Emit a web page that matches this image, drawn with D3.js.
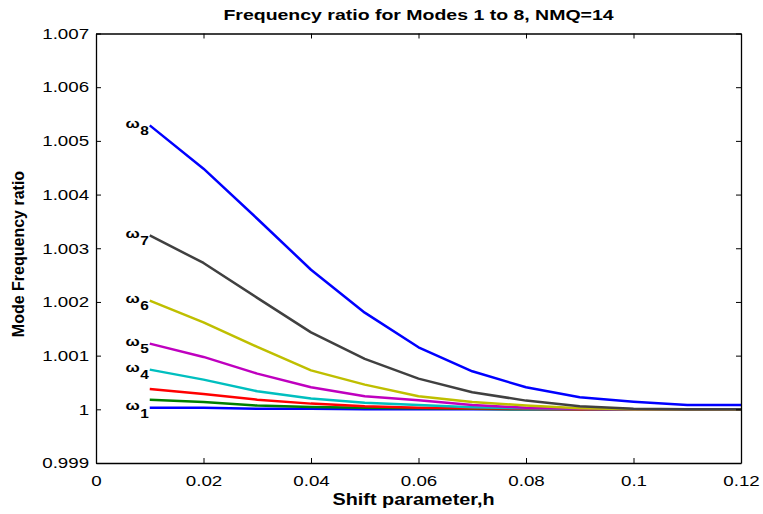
<!DOCTYPE html>
<html>
<head>
<meta charset="utf-8">
<script src="https://cdn.jsdelivr.net/npm/d3@7"></script>
<style>
  html, body { margin: 0; padding: 0; background: #fff; }
  svg { display: block; font-family: "Liberation Sans", Arial, Helvetica, sans-serif; }
</style>
</head>
<body>
<svg id="chart" width="763" height="514"></svg>
<script>
// Shift parameter values (x) and frequency ratios for modes 1..8
const shift = [0.01, 0.02, 0.03, 0.04, 0.05, 0.06, 0.07, 0.08, 0.09, 0.10, 0.11, 0.12];

const mode1 = [1.00003, 1.00003, 1.00001, 1.00001, 1.00000, 1.00000, 1.00000, 1.00000, 1.00000, 1.00000, 1.00000, 1.00000];
const mode2 = [1.00018, 1.000138, 1.000069, 1.000045, 1.00003, 1.00002, 1.00001, 1.00000, 1.00000, 1.00000, 1.00000, 1.00000];
const mode3 = [1.00038, 1.000287, 1.00018, 1.000106, 1.000056, 1.00003, 1.00002, 1.00001, 1.00000, 1.00000, 1.00000, 1.00000];
const mode4 = [1.000739, 1.000553, 1.000335, 1.0002, 1.00012, 1.00008, 1.00004, 1.00002, 1.00001, 1.00000, 1.00000, 1.00000];
const mode5 = [1.001223, 1.000976, 1.000665, 1.00041, 1.000242, 1.00017, 1.00008, 1.00003, 1.00001, 1.00000, 1.00000, 1.00000];
const mode6 = [1.002024, 1.00162, 1.001162, 1.000726, 1.00046, 1.000242, 1.000138, 1.000069, 1.00002, 1.00000, 1.00000, 1.00000];
const mode7 = [1.00324, 1.002726, 1.002075, 1.001434, 1.000939, 1.000572, 1.000317, 1.000162, 1.000056, 1.00001, 1.00000, 1.00000];
const mode8 = [1.005289, 1.004482, 1.00355, 1.0026, 1.0018, 1.001155, 1.000708, 1.00041, 1.000223, 1.000143, 1.000082, 1.000082];

const modes = [mode1, mode2, mode3, mode4, mode5, mode6, mode7, mode8];
const modeColors = ["#0000ff", "#008000", "#ff0000", "#00bfbf", "#bf00bf", "#bfbf00", "#404040", "#0000ff"];
// Modes that carry an ω label at the start of their curve
const labelledModes = [1, 4, 5, 6, 7, 8];

const xTicks = [0, 0.02, 0.04, 0.06, 0.08, 0.10, 0.12];
const yTicks = [0.999, 1.000, 1.001, 1.002, 1.003, 1.004, 1.005, 1.006, 1.007];

const titleText = "Frequency ratio for Modes 1 to 8, NMQ=14";
const xLabelText = "Shift parameter,h";
const yLabelText = "Mode Frequency ratio";

// Layout
const plotLeft = 96, plotRight = 741, plotTop = 33.5, plotBottom = 463;
const SX = 1.3;      // horizontal widening of the title and ω labels
const SX_TICK = 1.25; // horizontal widening of tick numbers
const SX_XLAB = 1.24; // horizontal widening of the x-axis label

const svg = d3.select("#chart");

const x = d3.scaleLinear().domain([0, 0.12]).range([plotLeft, plotRight]);
const y = d3.scaleLinear().domain([0.999, 1.007]).range([plotBottom, plotTop]);

// Curves
const line = d3.line().x((d, i) => x(shift[i])).y(d => y(d));
const plot = svg.append("g");
modes.forEach((vals, k) => {
  plot.append("path")
    .datum(vals)
    .attr("d", line)
    .attr("fill", "none")
    .attr("stroke", modeColors[k])
    .attr("stroke-width", 2.5)
    .attr("stroke-linejoin", "round");
});

// Axes with inward ticks on all four sides
const fmtX = d => String(+d.toFixed(2));
const fmtY = d => String(+d.toFixed(3));

const gx = svg.append("g").attr("transform", `translate(0,${plotBottom})`)
  .call(d3.axisBottom(x).tickValues(xTicks).tickSizeInner(-5).tickSizeOuter(0).tickPadding(12.5).tickFormat(fmtX));
const gy = svg.append("g").attr("transform", `translate(${plotLeft},0)`)
  .call(d3.axisLeft(y).tickValues(yTicks).tickSizeInner(-5).tickSizeOuter(0).tickPadding(5.5).tickFormat(fmtY));
const gxt = svg.append("g").attr("transform", `translate(0,${plotTop})`)
  .call(d3.axisTop(x).tickValues(xTicks).tickSizeInner(-5).tickSizeOuter(0).tickFormat(""));
const gyr = svg.append("g").attr("transform", `translate(${plotRight},0)`)
  .call(d3.axisRight(y).tickValues(yTicks).tickSizeInner(-5).tickSizeOuter(0).tickFormat(""));

[gx, gy, gxt, gyr].forEach(g => {
  g.select(".domain").attr("stroke", "#000").attr("stroke-width", 1.3);
  g.selectAll(".tick line").attr("stroke", "#000").attr("stroke-width", 1);
});
[gx, gy].forEach(g => {
  g.selectAll(".tick text")
    .attr("font-size", 15)
    .attr("font-family", "Liberation Sans, Arial, sans-serif")
    .attr("fill", "#000")
    .attr("transform", `scale(${SX_TICK},1)`);
});

// Title and axis labels
svg.append("text")
  .attr("transform", `translate(${(plotLeft + plotRight) / 2},20) scale(${SX},1)`)
  .attr("text-anchor", "middle")
  .attr("font-size", 15).attr("font-weight", "bold")
  .text(titleText);

svg.append("text")
  .attr("transform", `translate(413.5,505) scale(${SX_XLAB},1)`)
  .attr("text-anchor", "middle")
  .attr("font-size", 16).attr("font-weight", "bold")
  .text(xLabelText);

svg.append("text")
  .attr("transform", `translate(24,254) rotate(-90)`)
  .attr("text-anchor", "middle")
  .attr("font-size", 16).attr("font-weight", "bold")
  .text(yLabelText);

// ω_n labels beside the first point of each labelled curve
const labels = svg.append("g");
labelledModes.forEach(m => {
  const vx = x(shift[0]);
  const vy = y(modes[m - 1][0]);
  labels.append("text")
    .attr("transform", `translate(${vx - 10},${vy + 2.5}) scale(${SX},1)`)
    .attr("text-anchor", "end")
    .attr("font-size", 13).attr("font-weight", "bold")
    .text("ω");
  labels.append("text")
    .attr("transform", `translate(${vx - 9.5},${vy + 9.8}) scale(${SX * 0.95},1)`)
    .attr("text-anchor", "start")
    .attr("font-size", 12.5).attr("font-weight", "bold")
    .text(String(m));
});
</script>
</body>
</html>
